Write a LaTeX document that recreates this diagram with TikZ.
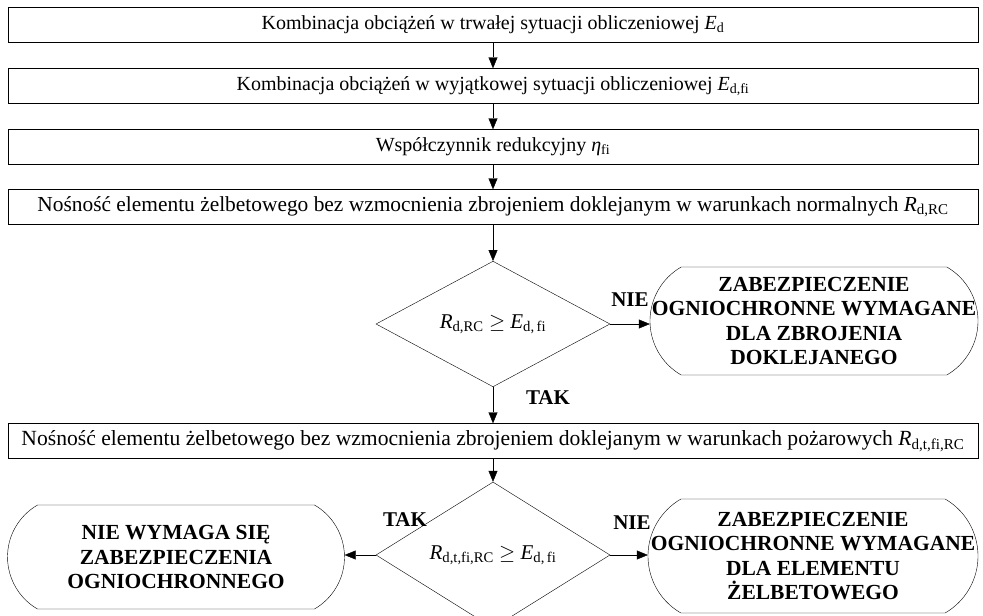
\documentclass[tikz,border=0pt]{standalone}
\usepackage{fontspec}
\setmainfont{Liberation Serif}
\usetikzlibrary{shapes.geometric,shapes.misc,arrows.meta}
\begin{document}
\begin{tikzpicture}[x=1pt,y=-1pt,
    every node/.style={font=\fontsize{20}{24.5}\selectfont},
    box/.style={draw,rectangle,minimum width=970pt,minimum height=35pt,inner sep=0pt},
    cond/.style={draw,diamond,minimum width=234pt,minimum height=123pt,inner sep=0pt,
      font=\fontsize{21}{24.5}\selectfont},
    term/.style={draw,rounded rectangle,rounded rectangle arc length=120,inner sep=0pt},
    termtxt/.style={align=center,inner sep=0pt,font=\fontsize{21.5}{24.5}\selectfont\bfseries},
    lbl/.style={font=\fontsize{21}{24.5}\selectfont\bfseries},
    arr/.style={-{Triangle[length=11pt,width=9pt]}}]
  \useasboundingbox (0,0) rectangle (983,616);

  % ciag obliczen
  \node[box] (komb) at (493,25) {Kombinacja obciążeń w trwałej sytuacji obliczeniowej \textit{E}\textsubscript{d}};
  \node[box] (kombfi) at (493,86) {Kombinacja obciążeń w wyjątkowej sytuacji obliczeniowej \textit{E}\textsubscript{d,fi}};
  \node[box] (wsp) at (493,147) {Współczynnik redukcyjny \textit{η}\textsubscript{fi}};
  \node[box,font=\fontsize{21.4}{24}\selectfont] (nosn) at (493,207) {Nośność elementu żelbetowego bez wzmocnienia zbrojeniem doklejanym w warunkach normalnych \textit{R}\textsubscript{d,RC}};
  \node[cond] (war1) at (493,324) {\textit{R}\textsubscript{d,RC} $\geq$ \textit{E}\textsubscript{d,\,fi}};
  \node[term,minimum width=328pt,minimum height=108pt] (zab1) at (814,321) {};
  \node[termtxt] (zab1t) at (zab1) {ZABEZPIECZENIE\\OGNIOCHRONNE WYMAGANE\\DLA ZBROJENIA\\DOKLEJANEGO};
  \node[box,font=\fontsize{21.6}{24}\selectfont] (nosnfi) at (493,441) {Nośność elementu żelbetowego bez wzmocnienia zbrojeniem doklejanym w warunkach pożarowych \textit{R}\textsubscript{d,t,fi,RC}};
  \node[cond] (war2) at (493,555) {\textit{R}\textsubscript{d,t,fi,RC} $\geq$ \textit{E}\textsubscript{d,\,fi}};
  \node[term,minimum width=337pt,minimum height=104pt] (brak) at (176,557) {};
  \node[termtxt] (brakt) at (brak) {NIE WYMAGA SIĘ\\ZABEZPIECZENIA\\OGNIOCHRONNEGO};
  \node[term,minimum width=330pt,minimum height=114pt] (zab2) at (813,556) {};
  \node[termtxt] (zab2t) at (zab2) {ZABEZPIECZENIE\\OGNIOCHRONNE WYMAGANE\\DLA ELEMENTU\\ŻELBETOWEGO};

  % polaczenia
  \draw[arr] (komb) -- (kombfi);
  \draw[arr] (kombfi) -- (wsp);
  \draw[arr] (wsp) -- (nosn);
  \draw[arr] (nosn) -- (war1);
  \draw[arr] (war1.east) -- (war1.east -| zab1.west);
  \draw[arr] (war1) -- (nosnfi);
  \draw[arr] (nosnfi) -- (war2);
  \draw[arr] (war2.west) -- (war2.west -| brak.east);
  \draw[arr] (war2.east) -- (war2.east -| zab2.west);

  \node[lbl] (nie1) at (630,300) {NIE};
  \node[lbl] (tak1) at (548,398) {TAK};
  \node[lbl] (tak2) at (405,520) {TAK};
  \node[lbl] (nie2) at (632,523) {NIE};
\end{tikzpicture}
\end{document}
